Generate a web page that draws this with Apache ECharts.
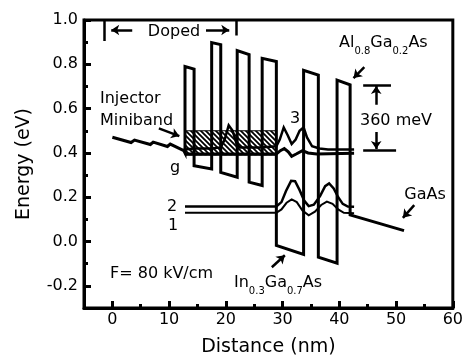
<!DOCTYPE html>
<html>
<head>
<meta charset="utf-8">
<script src="https://cdn.jsdelivr.net/npm/echarts@6/dist/echarts.min.js"></script>
<style>
  html, body { margin: 0; padding: 0; background: #fff; }
  #chart { width: 466px; height: 362px; }
</style>
</head>
<body>
<div id="chart"></div>
<script>
const FONT = "DejaVu Sans";

// axis ticks
const xTicks = [0, 10, 20, 30, 40, 50, 60];
const xMinorTicks = [5, 15, 25, 35, 45, 55];
const yTicks = [-0.2, 0, 0.2, 0.4, 0.6, 0.8, 1.0];
const yMinorTicks = [-0.1, 0.1, 0.3, 0.5, 0.7, 0.9];

// conduction band edge, [distance nm, energy eV]
const bandEdge = [
  [0, 0.471], [3.3, 0.447], [3.9, 0.458], [6.7, 0.438], [7.2, 0.449],
  [9.7, 0.429], [10.2, 0.44], [12.6, 0.41], [12.8, 0.40],
  [12.8, 0.79], [14.4, 0.778], [14.4, 0.342],
  [17.5, 0.328], [17.5, 0.898], [19.1, 0.889], [19.1, 0.312],
  [22.0, 0.29], [22.0, 0.862], [24.1, 0.844], [24.1, 0.268],
  [26.4, 0.253], [26.4, 0.827], [28.9, 0.813], [28.9, -0.018],
  [33.7, -0.058], [33.7, 0.773], [36.3, 0.751], [36.3, -0.071],
  [39.6, -0.098], [39.6, 0.729], [41.9, 0.707], [41.9, 0.12],
  [51.4, 0.049],
];

// injector miniband (hatched box)
const minibandX = [12.8, 28.8];
const minibandE = [0.39, 0.50];

// wavefunctions offset by their energies
const state1 = [
  [12.8, 0.13], [28.9, 0.13], [29.8, 0.145], [30.7, 0.175], [31.6, 0.19],
  [32.5, 0.178], [33.5, 0.14], [34.6, 0.118], [35.7, 0.135], [36.8, 0.165],
  [37.8, 0.18], [38.8, 0.17], [39.8, 0.145], [40.8, 0.13], [42.6, 0.128],
];
const state2 = [
  [12.8, 0.158], [28.9, 0.158], [29.8, 0.178], [30.6, 0.228], [31.5, 0.274],
  [32.2, 0.272], [33.0, 0.232], [33.8, 0.185], [34.6, 0.16], [35.5, 0.166],
  [36.6, 0.205], [37.5, 0.25], [38.2, 0.262], [39.0, 0.24], [39.8, 0.2],
  [40.6, 0.17], [41.5, 0.158], [42.6, 0.157],
];
const state3 = [
  [12.8, 0.415], [14.4, 0.42], [17.5, 0.42], [19.1, 0.425], [19.8, 0.46],
  [20.5, 0.525], [21.2, 0.5], [21.9, 0.44], [22.5, 0.425], [26, 0.425],
  [28.9, 0.43], [29.5, 0.46], [30.2, 0.515], [30.9, 0.48], [31.6, 0.44],
  [32.3, 0.46], [33.0, 0.5], [33.7, 0.515], [34.3, 0.47], [35.2, 0.43],
  [36.5, 0.42], [38, 0.415], [42.6, 0.415],
];
const stateG = [
  [12.8, 0.395], [28.9, 0.395], [29.6, 0.41], [30.3, 0.42], [31.0, 0.405],
  [31.6, 0.385], [32.4, 0.395], [33.5, 0.41], [34.5, 0.4], [36, 0.395],
  [42.6, 0.398],
];

// annotation arrows and brackets, [start, end]
const arrows = [
  [[3.5, 0.955], [-0.2, 0.955]],
  [[16.3, 0.955], [20.6, 0.955]],
  [[8.2, 0.511], [11.8, 0.476]],
  [[44.4, 0.787], [42.5, 0.738]],
  [[46.5, 0.618], [46.5, 0.702]],
  [[46.5, 0.502], [46.5, 0.418]],
  [[53.2, 0.164], [51.2, 0.107]],
  [[28.1, -0.116], [30.4, -0.062]],
];
const brackets = [
  [[-1.4, 1.0], [-1.4, 0.905]],
  [[21.75, 1.0], [21.75, 0.93]],
  [[44.2, 0.707], [49.1, 0.707]],
  [[44.2, 0.413], [50.0, 0.413]],
];

const hatch = document.createElement("canvas");
hatch.width = 5;
hatch.height = 5;
const hc = hatch.getContext("2d");
hc.fillStyle = "#fff";
hc.fillRect(0, 0, 5, 5);
hc.strokeStyle = "#000";
hc.lineWidth = 1.8;
hc.beginPath();
hc.moveTo(-1, -1); hc.lineTo(6, 6);
hc.moveTo(-1, 4); hc.lineTo(1, 6);
hc.moveTo(4, -1); hc.lineTo(6, 1);
hc.stroke();

const lineSeries = (data, width, z) => ({
  type: "line",
  data,
  showSymbol: false,
  silent: true,
  z,
  lineStyle: { color: "#000", width, join: "miter", cap: "butt" },
});

const txt = (text, x, y, align = "center", size = 16) => ({
  type: "text",
  x,
  y,
  z: 50,
  style: {
    text,
    fill: "#000",
    font: `${size}px "${FONT}"`,
    textAlign: align,
    textVerticalAlign: "middle",
  },
});

const subRich = {
  a: { fontFamily: FONT, fontSize: 16, lineHeight: 18, verticalAlign: "top", color: "#000" },
  s: { fontFamily: FONT, fontSize: 10, lineHeight: 12, verticalAlign: "top", padding: [11, 0, 0, 0], color: "#000" },
};

const chart = echarts.init(document.getElementById("chart"));

const axisBase = {
  type: "value",
  splitLine: { show: false },
  axisLine: { onZero: false, lineStyle: { color: "#000", width: 3 } },
};

chart.setOption({
  animation: false,
  backgroundColor: "#fff",
  grid: {
    left: 84, right: 12, top: 20, bottom: 47,
    show: true, borderColor: "#000", borderWidth: 3,
  },
  xAxis: [
    {
      ...axisBase,
      min: -5, max: 60, position: "bottom",
      axisTick: { inside: true, length: 7, customValues: xTicks, lineStyle: { width: 3, color: "#000" } },
      axisLabel: { customValues: xTicks, color: "#000", fontFamily: FONT, fontSize: 16, margin: 4 },
      name: "Distance (nm)",
      nameLocation: "middle",
      nameGap: 30,
      nameTextStyle: { color: "#000", fontFamily: FONT, fontSize: 19 },
    },
    {
      ...axisBase,
      min: -5, max: 60, position: "bottom",
      axisLine: { show: false, onZero: false },
      axisTick: { inside: true, length: 4, customValues: xMinorTicks, lineStyle: { width: 3, color: "#000" } },
      axisLabel: { show: false },
    },
  ],
  yAxis: [
    {
      ...axisBase,
      min: -0.3, max: 1.0, position: "left",
      axisTick: { inside: true, length: 7, customValues: yTicks, lineStyle: { width: 3, color: "#000" } },
      axisLabel: {
        customValues: yTicks, color: "#000", fontFamily: FONT, fontSize: 16, margin: 6,
        formatter: (v) => v.toFixed(1),
      },
      name: "Energy (eV)",
      nameLocation: "middle",
      nameGap: 50,
      nameRotate: 90,
      nameTextStyle: { color: "#000", fontFamily: FONT, fontSize: 19 },
    },
    {
      ...axisBase,
      min: -0.3, max: 1.0, position: "left",
      axisLine: { show: false, onZero: false },
      axisTick: { inside: true, length: 4, customValues: yMinorTicks, lineStyle: { width: 3, color: "#000" } },
      axisLabel: { show: false },
    },
  ],
  series: [
    {
      type: "line",
      data: [],
      silent: true,
      z: 1,
      markArea: {
        silent: true,
        itemStyle: { color: { image: hatch, repeat: "repeat" }, opacity: 1, borderColor: "#000", borderWidth: 1 },
        data: [[
          { xAxis: minibandX[0], yAxis: minibandE[1] },
          { xAxis: minibandX[1], yAxis: minibandE[0] },
        ]],
      },
    },
    lineSeries(bandEdge, 3, 5),
    lineSeries(state1, 2, 4),
    lineSeries(state2, 2.5, 4),
    lineSeries(state3, 2.5, 4),
    lineSeries(stateG, 3, 4),
    {
      type: "lines",
      coordinateSystem: "cartesian2d",
      silent: true,
      z: 6,
      symbol: ["none", "arrow"],
      symbolSize: 8,
      lineStyle: { color: "#000", width: 2.5, opacity: 1, curveness: 0 },
      data: arrows.map((c) => ({ coords: c })),
    },
    {
      type: "lines",
      coordinateSystem: "cartesian2d",
      silent: true,
      z: 6,
      symbol: "none",
      lineStyle: { color: "#000", width: 2.5, opacity: 1, curveness: 0 },
      data: brackets.map((c) => ({ coords: c })),
    },
  ],
  graphic: [
    { type: "rect", x: 140, y: 24, z: 49, shape: { width: 66, height: 16 }, style: { fill: "#fff" } },
    txt("Doped", 174, 32),
    txt("Injector", 100, 99, "left"),
    txt("Miniband", 100, 121, "left"),
    txt("g", 175, 168),
    txt("3", 295, 119),
    txt("2", 172, 207),
    txt("1", 173, 226),
    txt("F= 80 kV/cm", 110, 274, "left"),
    { type: "rect", x: 358, y: 110, z: 49, shape: { width: 76, height: 22 }, style: { fill: "#fff" } },
    txt("360 meV", 396, 121),
    txt("GaAs", 425, 195),
    {
      type: "text", x: 339, y: 35, z: 50,
      style: { text: "{a|Al}{s|0.8}{a|Ga}{s|0.2}{a|As}", rich: subRich },
    },
    {
      type: "text", x: 234, y: 275, z: 50,
      style: { text: "{a|In}{s|0.3}{a|Ga}{s|0.7}{a|As}", rich: subRich },
    },
  ],
});
</script>
</body>
</html>
